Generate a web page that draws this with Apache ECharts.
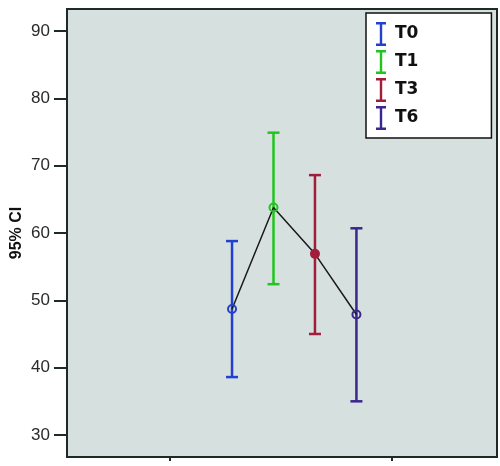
<!DOCTYPE html>
<html>
<head>
<meta charset="utf-8">
<script src="https://cdn.jsdelivr.net/npm/echarts@6/dist/echarts.min.js"></script>
<style>
  html, body { margin: 0; padding: 0; background: #fff; }
  #chart { width: 500px; height: 466px; }
</style>
</head>
<body>
<div id="chart"></div>
<script>
// groups, their x slot, colours and 95% CI
const groups = ["T0", "T1", "T3", "T6"];
const slots = [1, 2, 3, 4];
const colors = ["#2140cf", "#22c41f", "#a11d3b", "#3b268d"];
const means = [48.7, 63.8, 56.9, 47.9];
const lower = [38.6, 52.4, 45.0, 35.0];
const upper = [58.8, 74.9, 68.6, 60.7];
const yTicks = [30, 40, 50, 60, 70, 80, 90];
const filled = [false, false, true, false];

const chart = echarts.init(document.getElementById("chart"));

const barPath = "path://M0,0h10v2.4h-10z M3.8,0h2.4v24h-2.4z M0,21.6h10v2.4h-10z";

function renderBar(params, api) {
  const x = api.value(0);
  const lo = api.coord([x, api.value(1)]);
  const hi = api.coord([x, api.value(2)]);
  const half = 6;
  const style = { stroke: api.visual("color"), lineWidth: 2.5 };
  return {
    type: "group",
    children: [
      { type: "line", shape: { x1: lo[0], y1: lo[1], x2: hi[0], y2: hi[1] }, style },
      { type: "line", shape: { x1: hi[0] - half, y1: hi[1], x2: hi[0] + half, y2: hi[1] }, style },
      { type: "line", shape: { x1: lo[0] - half, y1: lo[1], x2: lo[0] + half, y2: lo[1] }, style }
    ]
  };
}

const barSeries = groups.map((name, i) => ({
  name,
  type: "custom",
  renderItem: renderBar,
  itemStyle: { color: colors[i] },
  encode: { x: 0, y: [1, 2] },
  data: [[slots[i], lower[i], upper[i]]],
  z: 2
}));

chart.setOption({
  backgroundColor: "#ffffff",
  animation: false,
  textStyle: { fontFamily: "Liberation Sans, Arial, sans-serif" },
  grid: {
    left: 67, right: 3, top: 9, bottom: 9,
    outerBoundsMode: "none",
    containLabel: false,
    show: true,
    backgroundColor: "#d6e0de",
    borderColor: "#1f2a28",
    borderWidth: 2
  },
  legend: {
    orient: "vertical",
    left: 366,
    top: 13,
    data: groups.map((name) => ({ name, icon: barPath })),
    itemWidth: 10,
    itemHeight: 24,
    itemGap: 4,
    padding: [9, 73, 8, 10],
    backgroundColor: "#ffffff",
    borderColor: "#111111",
    borderWidth: 1.5,
    borderRadius: 0,
    selectedMode: false,
    textStyle: {
      fontFamily: "DejaVu Sans, sans-serif",
      fontWeight: "bold",
      fontSize: 17,
      color: "#111111",
      padding: [0, 0, 0, 4]
    }
  },
  xAxis: {
    type: "value",
    min: -2.98,
    max: 7.39,
    axisLine: { show: true, onZero: false, lineStyle: { color: "#1f2a28", width: 2 } },
    axisTick: { show: true, customValues: [-0.5, 4.85], length: 4, lineStyle: { color: "#1f2a28", width: 2 } },
    axisLabel: { show: false },
    splitLine: { show: false }
  },
  yAxis: {
    type: "value",
    min: 26.73,
    max: 93.27,
    name: "95% CI",
    nameLocation: "middle",
    nameRotate: 90,
    nameGap: 42,
    nameMoveOverlap: false,
    nameTextStyle: { fontSize: 16, fontWeight: "bold", color: "#111111" },
    axisLine: { show: false, onZero: false },
    axisTick: { show: true, customValues: yTicks, length: 13, lineStyle: { color: "#1f2a28", width: 2 } },
    axisLabel: { customValues: yTicks, fontSize: 17, color: "#2a2a2a", margin: 17 },
    splitLine: { show: false }
  },
  series: [
    ...barSeries,
    {
      name: "mean",
      type: "line",
      z: 3,
      symbol: "circle",
      symbolSize: 8,
      lineStyle: { color: "#1a1a1a", width: 1.5 },
      data: means.map((m, i) => ({
        value: [slots[i], m],
        itemStyle: {
          color: filled[i] ? colors[i] : "rgba(0,0,0,0)",
          borderColor: colors[i],
          borderWidth: 2
        }
      }))
    }
  ]
});
</script>
</body>
</html>
